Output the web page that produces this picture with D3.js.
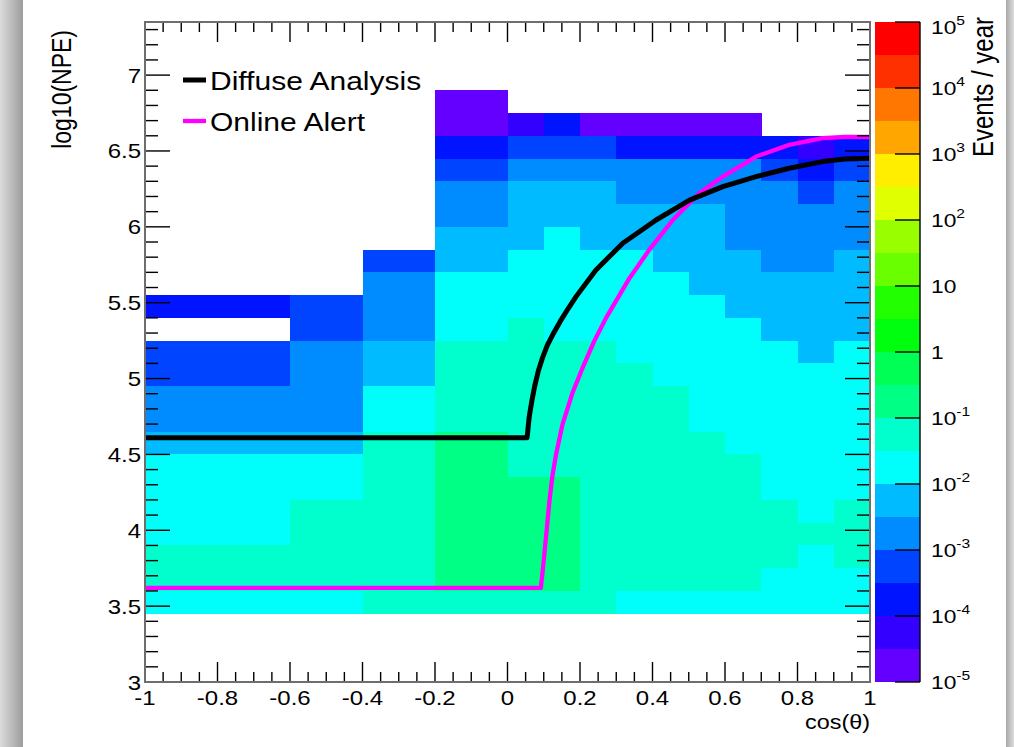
<!DOCTYPE html>
<html>
<head>
<meta charset="utf-8">
<title>log10(NPE) vs cos(theta)</title>
<script src="https://cdn.jsdelivr.net/npm/d3@7"></script>
<style>
  body { margin: 0; background: #fff; overflow: hidden; }
  text { font-family: "Liberation Sans", Arial, Helvetica, sans-serif; fill: #000; }
</style>
</head>
<body>
<svg width="1014" height="747"></svg>
<script>
// ---- data ----
// lower edges of the cos(theta) bins (width 0.1)
var xBinLow = [-1, -0.9, -0.8, -0.7, -0.6, -0.5, -0.4, -0.3, -0.2, -0.1,
               0, 0.1, 0.2, 0.3, 0.4, 0.5, 0.6, 0.7, 0.8, 0.9];
// lower edges of the log10(NPE) bins (width 0.15), top row first
var yBinLow = [6.75, 6.6, 6.45, 6.3, 6.15, 6.0, 5.85, 5.7, 5.55, 5.4, 5.25, 5.1,
               4.95, 4.8, 4.65, 4.5, 4.35, 4.2, 4.05, 3.9, 3.75, 3.6, 3.45];
var n = null;
// events / year, one row per yBinLow entry, one value per xBinLow entry
var rates = [
  [n, n, n, n, n, n, n, n, 2e-5, 2e-5, n, n, n, n, n, n, n, n, n, n],
  [n, n, n, n, n, n, n, n, 2e-5, 2e-5, 6e-5, 2e-4, 2e-5, 2e-5, 2e-5, 2e-5, 2e-5, n, n, n],
  [n, n, n, n, n, n, n, n, 2e-4, 2e-4, 6e-4, 6e-4, 6e-4, 2e-4, 2e-4, 2e-4, 2e-4, 2e-4, 6e-5, 2e-4],
  [n, n, n, n, n, n, n, n, 6e-4, 6e-4, 2e-3, 2e-3, 2e-3, 2e-3, 2e-3, 2e-3, 2e-3, 6e-4, 2e-4, 6e-4],
  [n, n, n, n, n, n, n, n, 2e-3, 2e-3, 6e-3, 6e-3, 6e-3, 2e-3, 2e-3, 2e-3, 2e-3, 2e-3, 6e-4, 2e-3],
  [n, n, n, n, n, n, n, n, 2e-3, 2e-3, 6e-3, 6e-3, 6e-3, 6e-3, 6e-3, 6e-3, 2e-3, 2e-3, 2e-3, 2e-3],
  [n, n, n, n, n, n, n, n, 6e-3, 6e-3, 6e-3, 2e-2, 6e-3, 6e-3, 6e-3, 6e-3, 2e-3, 2e-3, 2e-3, 2e-3],
  [n, n, n, n, n, n, 6e-4, 6e-4, 6e-3, 6e-3, 2e-2, 2e-2, 2e-2, 2e-2, 6e-3, 6e-3, 6e-3, 2e-3, 2e-3, 6e-3],
  [n, n, n, n, n, n, 2e-3, 2e-3, 2e-2, 2e-2, 2e-2, 2e-2, 2e-2, 2e-2, 2e-2, 6e-3, 6e-3, 6e-3, 6e-3, 6e-3],
  [2e-4, 2e-4, 2e-4, 2e-4, 6e-4, 6e-4, 2e-3, 2e-3, 2e-2, 2e-2, 2e-2, 2e-2, 2e-2, 2e-2, 2e-2, 2e-2, 6e-3, 6e-3, 6e-3, 6e-3],
  [n, n, n, n, 6e-4, 6e-4, 2e-3, 2e-3, 2e-2, 2e-2, 6e-2, 2e-2, 2e-2, 2e-2, 2e-2, 2e-2, 2e-2, 6e-3, 6e-3, 6e-3],
  [6e-4, 6e-4, 6e-4, 6e-4, 2e-3, 2e-3, 6e-3, 6e-3, 6e-2, 6e-2, 6e-2, 6e-2, 6e-2, 2e-2, 2e-2, 2e-2, 2e-2, 2e-2, 6e-3, 2e-2],
  [6e-4, 6e-4, 6e-4, 6e-4, 2e-3, 2e-3, 6e-3, 6e-3, 6e-2, 6e-2, 6e-2, 6e-2, 6e-2, 6e-2, 2e-2, 2e-2, 2e-2, 2e-2, 2e-2, 2e-2],
  [2e-3, 2e-3, 2e-3, 2e-3, 2e-3, 2e-3, 2e-2, 2e-2, 6e-2, 6e-2, 6e-2, 6e-2, 6e-2, 6e-2, 6e-2, 2e-2, 2e-2, 2e-2, 2e-2, 2e-2],
  [2e-3, 2e-3, 2e-3, 2e-3, 2e-3, 2e-3, 2e-2, 2e-2, 6e-2, 6e-2, 6e-2, 6e-2, 6e-2, 6e-2, 6e-2, 2e-2, 2e-2, 2e-2, 2e-2, 2e-2],
  [6e-3, 6e-3, 6e-3, 6e-3, 6e-3, 6e-3, 6e-2, 6e-2, 0.2, 0.2, 6e-2, 6e-2, 6e-2, 6e-2, 6e-2, 6e-2, 2e-2, 2e-2, 2e-2, 2e-2],
  [2e-2, 2e-2, 2e-2, 2e-2, 2e-2, 2e-2, 6e-2, 6e-2, 0.2, 0.2, 6e-2, 6e-2, 6e-2, 6e-2, 6e-2, 6e-2, 6e-2, 2e-2, 2e-2, 2e-2],
  [2e-2, 2e-2, 2e-2, 2e-2, 2e-2, 2e-2, 6e-2, 6e-2, 0.2, 0.2, 0.2, 0.2, 6e-2, 6e-2, 6e-2, 6e-2, 6e-2, 2e-2, 2e-2, 2e-2],
  [2e-2, 2e-2, 2e-2, 2e-2, 6e-2, 6e-2, 6e-2, 6e-2, 0.2, 0.2, 0.2, 0.2, 6e-2, 6e-2, 6e-2, 6e-2, 6e-2, 6e-2, 2e-2, 6e-2],
  [2e-2, 2e-2, 2e-2, 2e-2, 6e-2, 6e-2, 6e-2, 6e-2, 0.2, 0.2, 0.2, 0.2, 6e-2, 6e-2, 6e-2, 6e-2, 6e-2, 6e-2, 6e-2, 6e-2],
  [6e-2, 6e-2, 6e-2, 6e-2, 6e-2, 6e-2, 6e-2, 6e-2, 0.2, 0.2, 0.2, 0.2, 6e-2, 6e-2, 6e-2, 6e-2, 6e-2, 6e-2, 2e-2, 6e-2],
  [6e-2, 6e-2, 6e-2, 6e-2, 6e-2, 6e-2, 6e-2, 6e-2, 0.2, 0.2, 0.2, 0.2, 6e-2, 6e-2, 6e-2, 6e-2, 6e-2, 2e-2, 2e-2, 2e-2],
  [2e-2, 2e-2, 2e-2, 2e-2, 2e-2, 2e-2, 6e-2, 6e-2, 6e-2, 6e-2, 6e-2, 6e-2, 6e-2, 2e-2, 2e-2, 2e-2, 2e-2, 2e-2, 2e-2, 2e-2]
];

// threshold curves
var diffuseX = [-1, 0.054, 0.060, 0.067, 0.075, 0.085, 0.097, 0.110, 0.125, 0.145, 0.167, 0.189,
                0.244, 0.318, 0.410, 0.502, 0.594, 0.686, 0.777, 0.869, 0.930, 1.0];
var diffuseY = [4.61, 4.61, 4.75, 4.85, 4.95, 5.05, 5.14, 5.22, 5.29, 5.375, 5.46, 5.54,
                5.716, 5.892, 6.045, 6.176, 6.265, 6.331, 6.386, 6.430, 6.447, 6.452];
var alertX = [-1, 0.092, 0.100, 0.108, 0.116, 0.124, 0.134, 0.152, 0.180, 0.207, 0.240, 0.272,
              0.336, 0.391, 0.456, 0.529, 0.594, 0.686, 0.777, 0.869, 0.930, 1.0];
var alertY = [3.62, 3.62, 3.80, 4.00, 4.20, 4.36, 4.50, 4.70, 4.91, 5.07, 5.25, 5.40,
              5.66, 5.848, 6.045, 6.221, 6.331, 6.463, 6.540, 6.584, 6.592, 6.592];

var xTickLabels = [-1, -0.8, -0.6, -0.4, -0.2, 0, 0.2, 0.4, 0.6, 0.8, 1];
var yTickLabels = [3, 3.5, 4, 4.5, 5, 5.5, 6, 6.5, 7];
var zDecades = [-5, -4, -3, -2, -1, 0, 1, 2, 3, 4, 5];

// ROOT pretty palette, 20 contour colours, lowest first
var palette = ["#6300ff", "#3300ff", "#0014ff", "#0044ff", "#008bff", "#00bbff", "#00fffb", "#00ffcc",
               "#00ff85", "#00ff55", "#00ff0e", "#22ff00", "#69ff00", "#99ff00", "#e0ff00", "#ffee00",
               "#ffa700", "#ff7700", "#ff3000", "#ff0000"];

// ---- layout ----
var svg = d3.select("svg");
var padL = 145, padR = 870, padT = 22, padB = 682;
var sx = 1.2;   // the picture is stretched sideways

var x = d3.scaleLinear().domain([-1, 1]).range([padL, padR]);
var y = d3.scaleLinear().domain([3, 7.35]).range([padB, padT]);
var z = d3.scaleLog().domain([1e-5, 1e5]).range([padB, padT]);
var color = d3.scaleQuantize().domain([-5, 5]).range(palette);

// window shadow at the sides
var defs = svg.append("defs");
var gl = defs.append("linearGradient").attr("id", "shadeL");
gl.append("stop").attr("offset", "0").attr("stop-color", "#dcdcdc");
gl.append("stop").attr("offset", "1").attr("stop-color", "#9c9c9c");
var gr = defs.append("linearGradient").attr("id", "shadeR");
gr.append("stop").attr("offset", "0").attr("stop-color", "#a8a8a8");
gr.append("stop").attr("offset", "1").attr("stop-color", "#dcdcdc");
defs.append("clipPath").attr("id", "frameClip")
  .append("rect").attr("x", padL).attr("y", padT).attr("width", padR - padL).attr("height", padB - padT);

svg.append("rect").attr("width", 1014).attr("height", 747).attr("fill", "#fff");
svg.append("rect").attr("x", 0).attr("y", 0).attr("width", 23).attr("height", 747).attr("fill", "url(#shadeL)");
svg.append("rect").attr("x", 1006).attr("y", 0).attr("width", 8).attr("height", 747).attr("fill", "url(#shadeR)");

// ---- cells ----
var cells = [];
rates.forEach(function(row, r) {
  row.forEach(function(v, c) {
    if (v != null) cells.push({ x0: xBinLow[c], y0: yBinLow[r], v: v });
  });
});

svg.append("g")
  .attr("shape-rendering", "crispEdges")
  .selectAll("rect")
  .data(cells)
  .join("rect")
  .attr("x", function(d) { return x(d.x0); })
  .attr("y", function(d) { return y(d.y0 + 0.15); })
  .attr("width", function(d) { return x(d.x0 + 0.1) - x(d.x0) + 0.5; })
  .attr("height", function(d) { return y(d.y0) - y(d.y0 + 0.15) + 0.5; })
  .attr("fill", function(d) { return color(Math.log10(d.v)); });

// ---- curves ----
var line = d3.line().x(function(d) { return x(d[0]); }).y(function(d) { return y(d[1]); });
var curves = svg.append("g").attr("clip-path", "url(#frameClip)");
curves.append("path")
  .attr("d", line(d3.zip(alertX, alertY)))
  .attr("fill", "none").attr("stroke", "#ff00ff").attr("stroke-width", 4.3).attr("stroke-linejoin", "round");
curves.append("path")
  .attr("d", line(d3.zip(diffuseX, diffuseY)))
  .attr("fill", "none").attr("stroke", "#000").attr("stroke-width", 5).attr("stroke-linejoin", "round");

// ---- frame and ticks ----
var ax = svg.append("g").attr("stroke", "#000").attr("stroke-width", 1.4);
d3.range(-1, 1.0001, 0.05).forEach(function(v) {
  var major = Math.abs(Math.round(v * 5) - v * 5) < 1e-6;
  var len = major ? 20 : 10;
  ax.append("line").attr("x1", x(v)).attr("x2", x(v)).attr("y1", padB).attr("y2", padB - len);
  ax.append("line").attr("x1", x(v)).attr("x2", x(v)).attr("y1", padT).attr("y2", padT + len);
});
d3.range(3, 7.3501, 0.1).forEach(function(v) {
  var major = Math.abs(Math.round(v * 2) - v * 2) < 1e-6;
  var len = major ? 25 : 13;
  ax.append("line").attr("x1", padL).attr("x2", padL + len).attr("y1", y(v)).attr("y2", y(v));
  ax.append("line").attr("x1", padR).attr("x2", padR - len).attr("y1", y(v)).attr("y2", y(v));
});
svg.append("rect")
  .attr("x", padL).attr("y", padT).attr("width", padR - padL).attr("height", padB - padT)
  .attr("fill", "none").attr("stroke", "#6e6e6e").attr("stroke-width", 2);

// stretched text helper
function addText(px, py, str, size, anchor, rotate) {
  return svg.append("text")
    .attr("transform", "translate(" + px + "," + py + ") scale(" + sx + ",1)" + (rotate ? " rotate(-90)" : ""))
    .attr("font-size", size)
    .attr("text-anchor", anchor)
    .text(str);
}

xTickLabels.forEach(function(v) {
  addText(x(v), 705, String(v), 20, "middle");
});
yTickLabels.forEach(function(v) {
  addText(141, y(v) + 7.5, String(v), 20, "end");
});
addText(870, 729, "cos(\u03b8)", 19.5, "end");
addText(71, 30, "log10(NPE)", 23, "end", true);

// ---- legend ----
svg.append("line").attr("x1", 183).attr("x2", 206).attr("y1", 80).attr("y2", 80)
  .attr("stroke", "#000").attr("stroke-width", 5);
svg.append("line").attr("x1", 183).attr("x2", 206).attr("y1", 121).attr("y2", 121)
  .attr("stroke", "#ff00ff").attr("stroke-width", 4.3);
addText(210, 90, "Diffuse Analysis", 25, "start");
addText(210, 131, "Online Alert", 25, "start");

// ---- colour bar ----
var barL = 875, barR = 920;
svg.append("g")
  .attr("shape-rendering", "crispEdges")
  .selectAll("rect")
  .data(palette)
  .join("rect")
  .attr("x", barL)
  .attr("width", barR - barL)
  .attr("y", function(d, i) { return z(Math.pow(10, -4.5 + 0.5 * i)); })
  .attr("height", function(d, i) { return z(Math.pow(10, -5 + 0.5 * i)) - z(Math.pow(10, -4.5 + 0.5 * i)); })
  .attr("fill", function(d) { return d; });

var zax = svg.append("g").attr("stroke", "#000").attr("stroke-width", 1.4);
zax.append("line").attr("x1", barR).attr("x2", barR).attr("y1", padT).attr("y2", padB);
z.ticks().forEach(function(v) {
  var major = Math.abs(Math.log10(v) - Math.round(Math.log10(v))) < 1e-6;
  var len = major ? 25 : 13;
  zax.append("line").attr("x1", barR).attr("x2", barR - len).attr("y1", z(v)).attr("y2", z(v));
});

zDecades.forEach(function(k) {
  var shift = k === 5 ? 5 : 0;   // top label sits a little lower
  var t = addText(931, z(Math.pow(10, k)) + 7 + shift, "", 19, "start");
  if (k === 0) { t.text("1"); return; }
  t.append("tspan").text("10");
  if (k !== 1) {
    t.append("tspan").attr("font-size", 13).attr("dy", -9).text(k);
  }
});
addText(993, 17, "Events / year", 24, "end", true);
</script>
</body>
</html>
